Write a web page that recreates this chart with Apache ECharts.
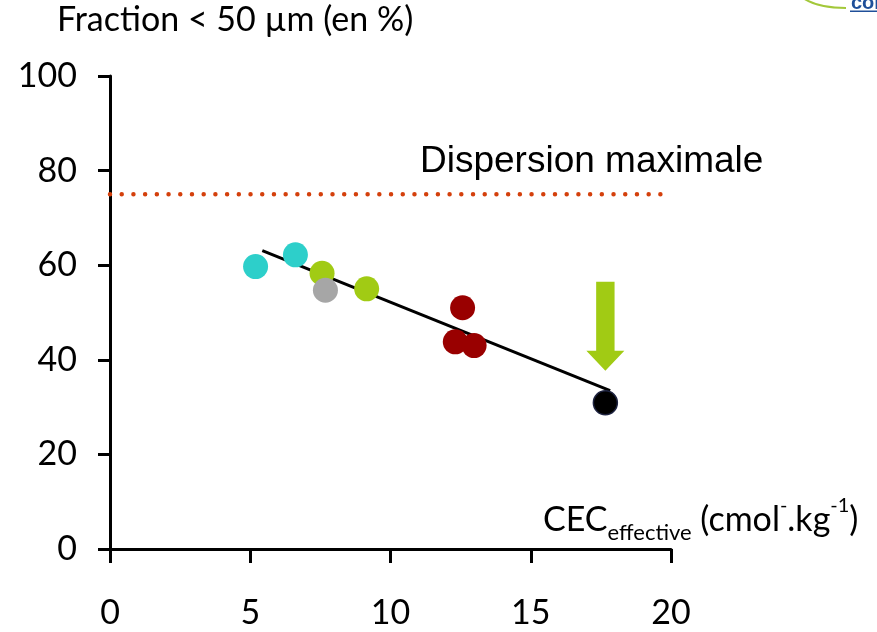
<!DOCTYPE html>
<html>
<head>
<meta charset="utf-8">
<script src="https://cdn.jsdelivr.net/npm/echarts@6/dist/echarts.min.js"></script>
<style>html,body{margin:0;padding:0;background:#fff}#c{width:877px;height:632px}</style>
</head>
<body>
<div id="c"></div>
<script>
// ---- data ----
const xTicks = [0, 5, 10, 15, 20];
const yTicks = [0, 20, 40, 60, 80, 100];
const cyanCEC = [5.19, 6.61];
const cyanFrac = [59.7, 62.2];
const greenCEC = [7.56, 9.15];
const greenFrac = [58.3, 55.0];
const grayCEC = [7.68];
const grayFrac = [54.7];
const redCEC = [12.57, 12.31, 12.98];
const redFrac = [51.0, 43.8, 43.0];
const blackCEC = [17.66];
const blackFrac = [30.9];
const trendCEC = [5.43, 17.83];
const trendFrac = [63.1, 33.5];
const maxDispCEC = [0, 19.8];
const maxDispFrac = [75, 75];
const arrowCEC = [17.66];
const arrowTop = [56.5];
const arrowHeadBase = [41.9];
const arrowTip = [37.7];

const zip = (a, b) => a.map((v, i) => [v, b[i]]);
const calib = 'Lato, "Open Sans", sans-serif';

const chart = echarts.init(document.getElementById('c'), null, {renderer: 'canvas'});

const option = {
  animation: false,
  grid: {left: 110, right: 206, top: 76, bottom: 83},
  xAxis: {
    type: 'value', min: xTicks[0], max: xTicks[xTicks.length - 1], interval: 5,
    axisLine: {lineStyle: {color: '#000', width: 3}},
    axisTick: {show: true, length: 14, lineStyle: {color: '#000', width: 3}},
    axisLabel: {margin: 47, fontSize: 34, fontFamily: calib, color: '#000'},
    splitLine: {show: false}
  },
  yAxis: {
    type: 'value', min: yTicks[0], max: yTicks[yTicks.length - 1], interval: 20,
    axisLine: {show: true, lineStyle: {color: '#000', width: 3}},
    axisTick: {show: true, length: 12, lineStyle: {color: '#000', width: 3}},
    axisLabel: {margin: 33, fontSize: 34, fontFamily: calib, color: '#000'},
    splitLine: {show: false}
  },
  graphic: [
    {type: 'text', left: 57, top: 3, style: {text: 'Fraction < 50 µm (en %)', font: '34px ' + calib, fill: '#000'}},
    {type: 'text', left: 420, top: 143, style: {text: 'Dispersion maximale', font: '37px "Liberation Sans", Arial, sans-serif', fill: '#000'}},
    {type: 'bezierCurve', shape: {x1: 803, y1: -2, cpx1: 818, cpy1: 8, x2: 846, y2: 8}, style: {stroke: '#a3c83a', lineWidth: 2, fill: null}},
    {type: 'text', left: 851, top: -7, style: {text: 'coi', font: 'bold 20px "Liberation Sans", sans-serif', fill: '#1f4f99'}},
    {type: 'rect', shape: {x: 850, y: 10.5, width: 27, height: 1.5}, style: {fill: '#1f4f99'}},
    {type: 'text', left: 543, top: 496, style: {
      text: '{a|CEC}{s|effective}{a| (cmol}{p|-}{a|.kg}{p|-1}{a|)}',
      rich: {
        a: {fontSize: 34, lineHeight: 48, verticalAlign: 'middle', fontFamily: calib, color: '#000'},
        s: {fontSize: 22, lineHeight: 21, verticalAlign: 'bottom', fontFamily: calib, color: '#000'},
        p: {fontSize: 20, lineHeight: 34, verticalAlign: 'top', fontFamily: calib, color: '#000'}
      }
    }}
  ],
  series: [
    {type: 'line', data: zip(maxDispCEC, maxDispFrac), symbol: 'none', z: 1,
     lineStyle: {color: '#d4400c', width: 4.5, type: [0.01, 11.7], cap: 'round'}},
    {type: 'line', data: zip(trendCEC, trendFrac), symbol: 'none', z: 2,
     lineStyle: {color: '#000', width: 3}},
    {type: 'scatter', data: zip(cyanCEC, cyanFrac), symbolSize: 25, z: 3, itemStyle: {color: '#2dcfca', opacity: 1}},
    {type: 'scatter', data: zip(greenCEC, greenFrac), symbolSize: 25, z: 3, itemStyle: {color: '#a1cb14', opacity: 1}},
    {type: 'scatter', data: zip(grayCEC, grayFrac), symbolSize: 25, z: 4, itemStyle: {color: '#a6a6a6', opacity: 1}},
    {type: 'scatter', data: zip(redCEC, redFrac), symbolSize: 25, z: 3, itemStyle: {color: '#990000', opacity: 1}},
    {type: 'scatter', data: zip(blackCEC, blackFrac), symbolSize: 24, z: 3, itemStyle: {color: '#000', borderColor: '#1e2340', borderWidth: 1.5, opacity: 1}},
    {type: 'custom', z: 3,
     data: arrowCEC.map((x, i) => [x, arrowTop[i], arrowHeadBase[i], arrowTip[i]]),
     renderItem: function (params, api) {
       const top = api.coord([api.value(0), api.value(1)]);
       const base = api.coord([api.value(0), api.value(2)]);
       const tip = api.coord([api.value(0), api.value(3)]);
       const sw = 9.2, hw = 19;
       return {type: 'polygon', shape: {points: [
         [top[0] - sw, top[1]], [top[0] + sw, top[1]], [base[0] + sw, base[1]], [base[0] + hw, base[1]],
         [tip[0], tip[1]], [base[0] - hw, base[1]], [base[0] - sw, base[1]]]},
         style: {fill: '#a1cb14'}};
     }}
  ]
};
chart.setOption(option);
</script>
</body>
</html>
